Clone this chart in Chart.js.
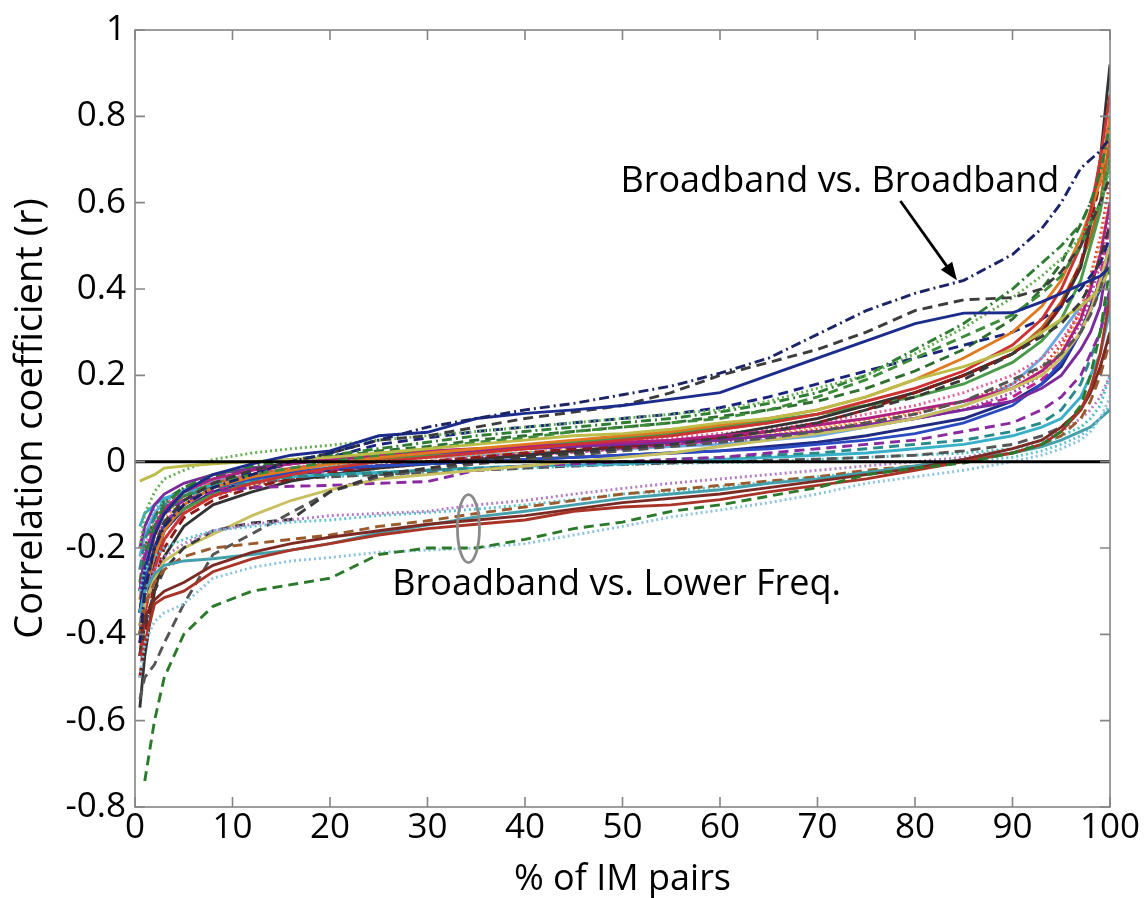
<!DOCTYPE html>
<html>
<head>
<meta charset="utf-8">
<script src="https://cdn.jsdelivr.net/npm/chart.js@4/dist/chart.umd.min.js"></script>
<style>
  html, body { margin: 0; padding: 0; background: #ffffff; }
  #wrap { width: 1148px; height: 898px; }
</style>
</head>
<body>
<div id="wrap"><canvas id="chart" width="1148" height="898"></canvas></div>
<script>
// Percentile positions (% of IM pairs) shared by every sorted-correlation curve
const pctPairs = [0.5, 1, 2, 3, 5, 8, 12, 16, 20, 25, 30, 35, 40, 45, 50, 55, 60, 65, 70, 75, 80, 85, 90, 93, 95, 97, 98, 99, 100];

// Reference line at r = 0
const zeroLineX = [0, 100];
const zeroLineY = [0, 0];

// Axis tick values
const xTicks = [0, 10, 20, 30, 40, 50, 60, 70, 80, 90, 100];
const yTicks = [-0.8, -0.6, -0.4, -0.2, 0, 0.2, 0.4, 0.6, 0.8, 1];

// Broadband vs. broadband pairs (upper bundle)
const navyDashDot   = [-0.42,-0.3,-0.2,-0.15,-0.1,-0.06,-0.03,0.0,0.02,0.05,0.08,0.1,0.12,0.135,0.155,0.175,0.205,0.24,0.295,0.35,0.39,0.42,0.48,0.54,0.6,0.68,0.7,0.72,0.75];
const navySolid     = [-0.35,-0.25,-0.17,-0.12,-0.07,-0.03,-0.005,0.015,0.025,0.06,0.068,0.1,0.112,0.12,0.13,0.145,0.16,0.2,0.24,0.28,0.32,0.344,0.345,0.37,0.39,0.41,0.42,0.43,0.45];
const grayDashHigh  = [-0.4,-0.3,-0.2,-0.14,-0.09,-0.05,-0.02,0.0,0.02,0.05,0.06,0.08,0.1,0.115,0.13,0.16,0.2,0.23,0.26,0.3,0.35,0.375,0.38,0.4,0.44,0.5,0.55,0.6,0.66];
const grayDashKnee  = [-0.45,-0.38,-0.3,-0.25,-0.2,-0.16,-0.142,-0.134,-0.07,-0.03,-0.015,0.0,0.01,0.02,0.03,0.04,0.055,0.07,0.09,0.12,0.15,0.19,0.25,0.29,0.32,0.37,0.41,0.47,0.55];
const grayDashSteep = [-0.55,-0.5,-0.47,-0.42,-0.33,-0.215,-0.167,-0.118,-0.07,-0.035,-0.02,-0.005,0.005,0.015,0.025,0.035,0.045,0.055,0.07,0.09,0.11,0.14,0.19,0.22,0.25,0.3,0.34,0.4,0.48];
const oliveTop      = [-0.045,-0.04,-0.03,-0.015,-0.01,-0.005,0.0,0.005,0.01,0.02,0.03,0.04,0.05,0.06,0.065,0.075,0.09,0.1,0.12,0.15,0.19,0.22,0.26,0.3,0.33,0.36,0.38,0.4,0.45];
const oliveGap      = [-0.4,-0.33,-0.27,-0.23,-0.2,-0.168,-0.125,-0.09,-0.065,-0.04,-0.03,-0.02,-0.01,0.0,0.01,0.02,0.035,0.05,0.065,0.08,0.1,0.13,0.17,0.2,0.24,0.3,0.35,0.42,0.5];
const greenDot      = [-0.2,-0.12,-0.07,-0.04,-0.02,0.005,0.02,0.03,0.038,0.05,0.06,0.07,0.08,0.09,0.1,0.11,0.12,0.14,0.17,0.2,0.25,0.31,0.38,0.43,0.47,0.52,0.56,0.6,0.68];
const greenDashDot  = [-0.3,-0.22,-0.15,-0.1,-0.06,-0.03,-0.01,0.005,0.015,0.03,0.045,0.06,0.07,0.08,0.09,0.1,0.115,0.135,0.16,0.2,0.26,0.32,0.4,0.46,0.5,0.55,0.6,0.67,0.78];
const greenDash     = [-0.35,-0.25,-0.17,-0.12,-0.08,-0.05,-0.03,-0.015,0.0,0.015,0.03,0.045,0.055,0.07,0.08,0.09,0.1,0.12,0.15,0.19,0.24,0.29,0.34,0.39,0.43,0.5,0.55,0.6,0.7];
const redSolid      = [-0.45,-0.35,-0.25,-0.18,-0.12,-0.08,-0.05,-0.03,-0.015,0.0,0.01,0.02,0.03,0.04,0.05,0.06,0.075,0.09,0.11,0.14,0.17,0.21,0.27,0.33,0.4,0.5,0.58,0.7,0.85];
const orangeSolid   = [-0.4,-0.3,-0.22,-0.16,-0.1,-0.06,-0.035,-0.02,-0.005,0.01,0.02,0.03,0.04,0.05,0.06,0.07,0.085,0.1,0.12,0.15,0.19,0.24,0.3,0.36,0.42,0.52,0.58,0.65,0.8];
const magentaSolid  = [-0.3,-0.22,-0.15,-0.11,-0.07,-0.04,-0.02,-0.005,0.005,0.015,0.025,0.03,0.035,0.04,0.045,0.05,0.06,0.07,0.085,0.1,0.12,0.14,0.17,0.21,0.25,0.33,0.4,0.48,0.6];
const purpleSolid   = [-0.2,-0.15,-0.1,-0.075,-0.05,-0.03,-0.015,-0.005,0.005,0.012,0.02,0.025,0.03,0.035,0.04,0.045,0.05,0.06,0.07,0.085,0.1,0.12,0.14,0.17,0.2,0.26,0.3,0.36,0.5];
const purpleDash    = [-0.3,-0.22,-0.16,-0.12,-0.09,-0.07,-0.06,-0.057,-0.055,-0.05,-0.046,-0.02,-0.01,-0.005,0.0,0.005,0.01,0.02,0.03,0.04,0.05,0.07,0.09,0.12,0.15,0.2,0.25,0.3,0.4];
const blueSolid     = [-0.35,-0.28,-0.2,-0.15,-0.1,-0.06,-0.04,-0.025,-0.015,-0.01,-0.005,0.0,0.005,0.01,0.015,0.02,0.025,0.03,0.04,0.05,0.065,0.09,0.13,0.18,0.23,0.3,0.35,0.4,0.5];
const navyDash      = [-0.4,-0.3,-0.2,-0.14,-0.09,-0.05,-0.025,-0.005,0.01,0.04,0.055,0.07,0.08,0.09,0.1,0.11,0.125,0.15,0.18,0.21,0.24,0.27,0.3,0.33,0.36,0.4,0.43,0.46,0.52];
const tealDash      = [-0.25,-0.18,-0.13,-0.1,-0.08,-0.06,-0.045,-0.035,-0.03,-0.025,-0.02,-0.015,-0.01,-0.005,0.0,0.005,0.01,0.015,0.02,0.03,0.04,0.05,0.07,0.09,0.12,0.18,0.24,0.3,0.4];
const cyanSolid     = [-0.15,-0.12,-0.1,-0.085,-0.07,-0.055,-0.045,-0.035,-0.03,-0.025,-0.02,-0.015,-0.01,-0.008,-0.005,0.0,0.005,0.01,0.015,0.02,0.03,0.04,0.06,0.08,0.1,0.15,0.2,0.25,0.35];
const darkRedDash   = [-0.5,-0.4,-0.28,-0.2,-0.13,-0.09,-0.06,-0.04,-0.025,-0.01,0.0,0.01,0.02,0.03,0.035,0.045,0.055,0.07,0.09,0.12,0.16,0.2,0.25,0.3,0.36,0.46,0.55,0.65,0.8];
const charcoalSolid = [-0.57,-0.45,-0.3,-0.22,-0.15,-0.1,-0.07,-0.045,-0.03,-0.015,-0.005,0.005,0.015,0.025,0.035,0.045,0.06,0.08,0.1,0.13,0.16,0.2,0.25,0.3,0.36,0.45,0.55,0.7,0.92];
const pinkDot       = [-0.25,-0.2,-0.14,-0.1,-0.07,-0.045,-0.03,-0.015,0.0,0.01,0.02,0.025,0.03,0.038,0.045,0.055,0.065,0.075,0.09,0.11,0.13,0.16,0.2,0.24,0.28,0.35,0.4,0.45,0.55];
const orangeDot     = [-0.3,-0.25,-0.18,-0.13,-0.09,-0.06,-0.04,-0.025,-0.01,0.0,0.008,0.015,0.022,0.03,0.038,0.045,0.055,0.065,0.08,0.095,0.115,0.14,0.17,0.21,0.26,0.34,0.42,0.5,0.62];
const greenSolid    = [-0.38,-0.3,-0.2,-0.15,-0.11,-0.075,-0.05,-0.03,-0.015,0.0,0.015,0.025,0.035,0.045,0.055,0.065,0.08,0.095,0.11,0.13,0.15,0.18,0.23,0.28,0.33,0.42,0.5,0.58,0.7];
const magentaDash   = [-0.35,-0.27,-0.19,-0.14,-0.1,-0.065,-0.045,-0.03,-0.02,-0.01,0.0,0.01,0.018,0.025,0.032,0.04,0.05,0.06,0.07,0.085,0.1,0.12,0.15,0.19,0.23,0.3,0.36,0.43,0.55];
const indigoSolid   = [-0.45,-0.35,-0.23,-0.16,-0.11,-0.07,-0.045,-0.03,-0.02,-0.01,-0.005,0.0,0.005,0.01,0.015,0.02,0.025,0.035,0.045,0.06,0.08,0.1,0.14,0.18,0.22,0.3,0.36,0.42,0.5];
const redDot        = [-0.42,-0.35,-0.25,-0.18,-0.12,-0.08,-0.055,-0.04,-0.03,-0.015,-0.005,0.005,0.015,0.022,0.03,0.04,0.05,0.06,0.075,0.09,0.11,0.14,0.18,0.22,0.27,0.35,0.43,0.52,0.65];
const grayDashLow   = [-0.3,-0.22,-0.16,-0.12,-0.09,-0.065,-0.05,-0.04,-0.035,-0.03,-0.025,-0.02,-0.015,-0.01,-0.006,-0.003,0.0,0.003,0.006,0.01,0.015,0.025,0.04,0.06,0.08,0.12,0.16,0.2,0.3];
const aquaDot       = [-0.2,-0.15,-0.11,-0.09,-0.075,-0.06,-0.05,-0.04,-0.035,-0.03,-0.025,-0.02,-0.015,-0.01,-0.007,-0.004,-0.002,0.0,0.005,0.01,0.015,0.02,0.03,0.04,0.06,0.08,0.1,0.13,0.2];
const rustSolid     = [-0.32,-0.25,-0.17,-0.12,-0.08,-0.05,-0.03,-0.015,-0.005,0.005,0.015,0.025,0.035,0.045,0.055,0.065,0.075,0.09,0.11,0.13,0.16,0.2,0.25,0.31,0.37,0.46,0.52,0.6,0.75];
const forestDash    = [-0.28,-0.2,-0.13,-0.09,-0.06,-0.035,-0.015,0.0,0.01,0.025,0.035,0.05,0.06,0.07,0.08,0.09,0.105,0.12,0.14,0.17,0.21,0.26,0.33,0.4,0.46,0.55,0.6,0.65,0.72];
const skySolid      = [-0.22,-0.17,-0.12,-0.09,-0.065,-0.045,-0.03,-0.02,-0.01,0.0,0.01,0.015,0.02,0.025,0.03,0.035,0.04,0.05,0.06,0.08,0.1,0.13,0.18,0.24,0.3,0.36,0.38,0.4,0.42];
const violetDot     = [-0.4,-0.32,-0.22,-0.16,-0.11,-0.07,-0.045,-0.03,-0.018,-0.008,0.0,0.008,0.015,0.022,0.03,0.037,0.045,0.055,0.065,0.08,0.1,0.12,0.16,0.2,0.25,0.32,0.38,0.46,0.58];

// Broadband vs. lower-frequency pairs (lower bundle)
const greenDashLow  = [null,-0.74,-0.6,-0.5,-0.4,-0.335,-0.3,-0.285,-0.27,-0.215,-0.2,-0.2,-0.18,-0.155,-0.14,-0.115,-0.1,-0.08,-0.06,-0.03,-0.015,-0.003,0.02,0.04,0.07,0.13,0.2,0.3,0.45];
const lightBlueDot  = [-0.5,-0.42,-0.37,-0.35,-0.33,-0.27,-0.245,-0.23,-0.222,-0.21,-0.205,-0.2,-0.19,-0.17,-0.15,-0.128,-0.112,-0.095,-0.075,-0.05,-0.035,-0.02,0.0,0.015,0.03,0.05,0.07,0.1,0.15];
const brickSolid    = [-0.45,-0.42,-0.33,-0.315,-0.3,-0.255,-0.225,-0.205,-0.19,-0.17,-0.155,-0.145,-0.135,-0.115,-0.105,-0.1,-0.088,-0.07,-0.055,-0.04,-0.02,0.0,0.02,0.04,0.07,0.12,0.17,0.25,0.38];
const maroonSolid   = [-0.42,-0.36,-0.32,-0.3,-0.28,-0.24,-0.21,-0.19,-0.175,-0.16,-0.145,-0.135,-0.125,-0.11,-0.095,-0.085,-0.075,-0.06,-0.045,-0.03,-0.015,0.005,0.03,0.05,0.08,0.12,0.16,0.22,0.3];
const tealSolidLow  = [-0.35,-0.3,-0.26,-0.24,-0.23,-0.225,-0.215,-0.205,-0.19,-0.165,-0.147,-0.128,-0.115,-0.1,-0.085,-0.075,-0.065,-0.05,-0.04,-0.025,-0.01,0.005,0.02,0.035,0.05,0.07,0.08,0.1,0.12];
const brownDashLow  = [-0.4,-0.33,-0.28,-0.25,-0.22,-0.2,-0.19,-0.18,-0.17,-0.15,-0.137,-0.12,-0.105,-0.09,-0.075,-0.065,-0.055,-0.045,-0.035,-0.02,-0.01,0.005,0.02,0.04,0.06,0.1,0.14,0.2,0.28];
const lilacDotLow   = [-0.38,-0.3,-0.25,-0.22,-0.19,-0.16,-0.145,-0.135,-0.125,-0.12,-0.115,-0.1,-0.09,-0.075,-0.062,-0.05,-0.04,-0.03,-0.02,-0.01,0.0,0.01,0.03,0.05,0.07,0.1,0.12,0.15,0.2];
const cyanDotLow    = [-0.3,-0.25,-0.22,-0.2,-0.18,-0.16,-0.15,-0.14,-0.135,-0.125,-0.118,-0.11,-0.1,-0.088,-0.075,-0.068,-0.058,-0.048,-0.035,-0.025,-0.012,0.0,0.01,0.025,0.04,0.06,0.08,0.1,0.13];

// Line patterns
const SOLID = [];
const DASH = [10, 6];
const DOT = [2, 3];
const DASHDOT = [10, 4, 2, 4];

// Drawing styles (first entries end up on top)
const curveStyles = [
  { values: navyDashDot,   color: '#1b2466', dash: DASHDOT },
  { values: greenDashLow,  color: '#2b7a2b', dash: DASH },
  { values: lightBlueDot,  color: '#8cc4e0', dash: DOT },
  { values: brickSolid,    color: '#a83428', dash: SOLID },
  { values: maroonSolid,   color: '#7c2a24', dash: SOLID },
  { values: tealSolidLow,  color: '#44a0ac', dash: SOLID },
  { values: brownDashLow,  color: '#9a5a2c', dash: DASH },
  { values: lilacDotLow,   color: '#b47cc4', dash: DOT },
  { values: cyanDotLow,    color: '#60c4d0', dash: DOT },
  { values: navySolid,     color: '#1c2c8c', dash: SOLID },
  { values: grayDashHigh,  color: '#3c3c3c', dash: DASH },
  { values: grayDashKnee,  color: '#3a3a3a', dash: DASH },
  { values: grayDashSteep, color: '#555555', dash: DASH },
  { values: oliveTop,      color: '#bcbc48', dash: SOLID },
  { values: oliveGap,      color: '#c8c060', dash: SOLID },
  { values: purpleDash,    color: '#8a2aa0', dash: DASH },
  { values: greenDot,      color: '#62ae52', dash: DOT },
  { values: greenDashDot,  color: '#2e7d32', dash: DASHDOT },
  { values: greenDash,     color: '#3c8c3c', dash: DASH },
  { values: redSolid,      color: '#cc3333', dash: SOLID },
  { values: orangeSolid,   color: '#e07a20', dash: SOLID },
  { values: magentaSolid,  color: '#b0207f', dash: SOLID },
  { values: purpleSolid,   color: '#7b2a9b', dash: SOLID },
  { values: blueSolid,     color: '#2a4ac0', dash: SOLID },
  { values: navyDash,      color: '#1a237e', dash: DASH },
  { values: tealDash,      color: '#2a8a8a', dash: DASH },
  { values: cyanSolid,     color: '#3ab0c8', dash: SOLID },
  { values: darkRedDash,   color: '#8b1a1a', dash: DASH },
  { values: charcoalSolid, color: '#333333', dash: SOLID },
  { values: pinkDot,       color: '#e0609a', dash: DOT },
  { values: orangeDot,     color: '#f0a040', dash: DOT },
  { values: greenSolid,    color: '#4a9a4a', dash: SOLID },
  { values: magentaDash,   color: '#c02090', dash: DASH },
  { values: indigoSolid,   color: '#202a80', dash: SOLID },
  { values: redDot,        color: '#d04040', dash: DOT },
  { values: grayDashLow,   color: '#555555', dash: DASH },
  { values: aquaDot,       color: '#4ac0c0', dash: DOT },
  { values: rustSolid,     color: '#c06020', dash: SOLID },
  { values: forestDash,    color: '#2f6f2f', dash: DASH },
  { values: skySolid,      color: '#6aa8e0', dash: SOLID },
  { values: violetDot,     color: '#9a4ab0', dash: DOT }
];

const FONT = '"Open Sans", "Noto Sans", sans-serif';

const datasets = [{
  data: zeroLineX.map((x, i) => ({ x, y: zeroLineY[i] })),
  borderColor: '#000000',
  borderWidth: 3,
  pointRadius: 0
}].concat(curveStyles.map(s => ({
  data: pctPairs.map((p, i) => ({ x: p, y: s.values[i] })),
  borderColor: s.color,
  borderDash: s.dash,
  borderWidth: 2.9,
  borderCapStyle: 'butt',
  pointRadius: 0,
  tension: 0,
  spanGaps: false
})));

// Box, inward tick marks and the text/arrow/ellipse callouts
const framePlugin = {
  id: 'frame',
  afterDatasetsDraw(chart) {
    const { ctx, chartArea: a, scales: { x, y } } = chart;
    ctx.save();
    ctx.strokeStyle = '#858585';
    ctx.lineWidth = 1.6;
    ctx.strokeRect(a.left, a.top, a.right - a.left, a.bottom - a.top);
    const len = 10;
    ctx.beginPath();
    xTicks.forEach(v => {
      const px = x.getPixelForValue(v);
      ctx.moveTo(px, a.bottom); ctx.lineTo(px, a.bottom - len);
      ctx.moveTo(px, a.top); ctx.lineTo(px, a.top + len);
    });
    yTicks.forEach(v => {
      const py = y.getPixelForValue(v);
      ctx.moveTo(a.left, py); ctx.lineTo(a.left + len, py);
      ctx.moveTo(a.right, py); ctx.lineTo(a.right - len, py);
    });
    ctx.stroke();

    // Callout texts
    ctx.fillStyle = '#000000';
    ctx.font = '36px ' + FONT;
    ctx.textAlign = 'center';
    ctx.textBaseline = 'middle';
    ctx.fillText('Broadband vs. Broadband', x.getPixelForValue(72.3), y.getPixelForValue(0.648));
    ctx.fillText('Broadband vs. Lower Freq.', x.getPixelForValue(49.4), y.getPixelForValue(-0.284));

    // Arrow to the top broadband curve
    const x0 = x.getPixelForValue(78.5), y0 = y.getPixelForValue(0.604);
    const x1 = x.getPixelForValue(84.3), y1 = y.getPixelForValue(0.42);
    const ang = Math.atan2(y1 - y0, x1 - x0);
    ctx.strokeStyle = '#000000';
    ctx.lineWidth = 2.8;
    ctx.beginPath();
    ctx.moveTo(x0, y0);
    ctx.lineTo(x1 - 12 * Math.cos(ang), y1 - 12 * Math.sin(ang));
    ctx.stroke();
    ctx.beginPath();
    ctx.moveTo(x1, y1);
    ctx.lineTo(x1 - 18 * Math.cos(ang) + 7 * Math.sin(ang), y1 - 18 * Math.sin(ang) - 7 * Math.cos(ang));
    ctx.lineTo(x1 - 18 * Math.cos(ang) - 7 * Math.sin(ang), y1 - 18 * Math.sin(ang) + 7 * Math.cos(ang));
    ctx.closePath();
    ctx.fill();

    // Ellipse marking the lower-frequency bundle
    ctx.strokeStyle = '#8a8a8a';
    ctx.lineWidth = 2.8;
    ctx.beginPath();
    ctx.ellipse(x.getPixelForValue(34.2), y.getPixelForValue(-0.155), 11, 34, 0, 0, Math.PI * 2);
    ctx.stroke();
    ctx.restore();
  }
};

new Chart(document.getElementById('chart'), {
  type: 'line',
  data: { datasets },
  plugins: [framePlugin],
  options: {
    responsive: false,
    animation: false,
    layout: { padding: { top: 25, right: 38, left: 0, bottom: 0 } },
    plugins: { legend: { display: false }, tooltip: { enabled: false } },
    scales: {
      x: {
        type: 'linear', min: 0, max: 100,
        afterBuildTicks(s) { s.ticks = xTicks.map(v => ({ value: v })); },
        afterFit(s) { s.height = 91; },
        ticks: { color: '#000', font: { family: FONT, size: 35 }, padding: 0, autoSkip: false, maxRotation: 0,
                 callback: v => String(v) },
        grid: { display: false, drawTicks: false },
        border: { display: false },
        title: { display: true, text: '% of IM pairs', color: '#000',
                 font: { family: FONT, size: 36, lineHeight: 1 }, padding: { top: 0, bottom: 0 } }
      },
      y: {
        type: 'linear', min: -0.8, max: 1,
        afterBuildTicks(s) { s.ticks = yTicks.map(v => ({ value: v })); },
        afterFit(s) { s.width = 135; },
        ticks: { color: '#000', font: { family: FONT, size: 35 }, padding: 9, autoSkip: false,
                 callback: v => String(Number(v.toFixed(1))) },
        grid: { display: false, drawTicks: false },
        border: { display: false },
        title: { display: true, text: 'Correlation coefficient (r)', color: '#000',
                 font: { family: FONT, size: 38, lineHeight: 1 }, padding: { top: 12, bottom: 0 } }
      }
    }
  }
});
</script>
</body>
</html>
